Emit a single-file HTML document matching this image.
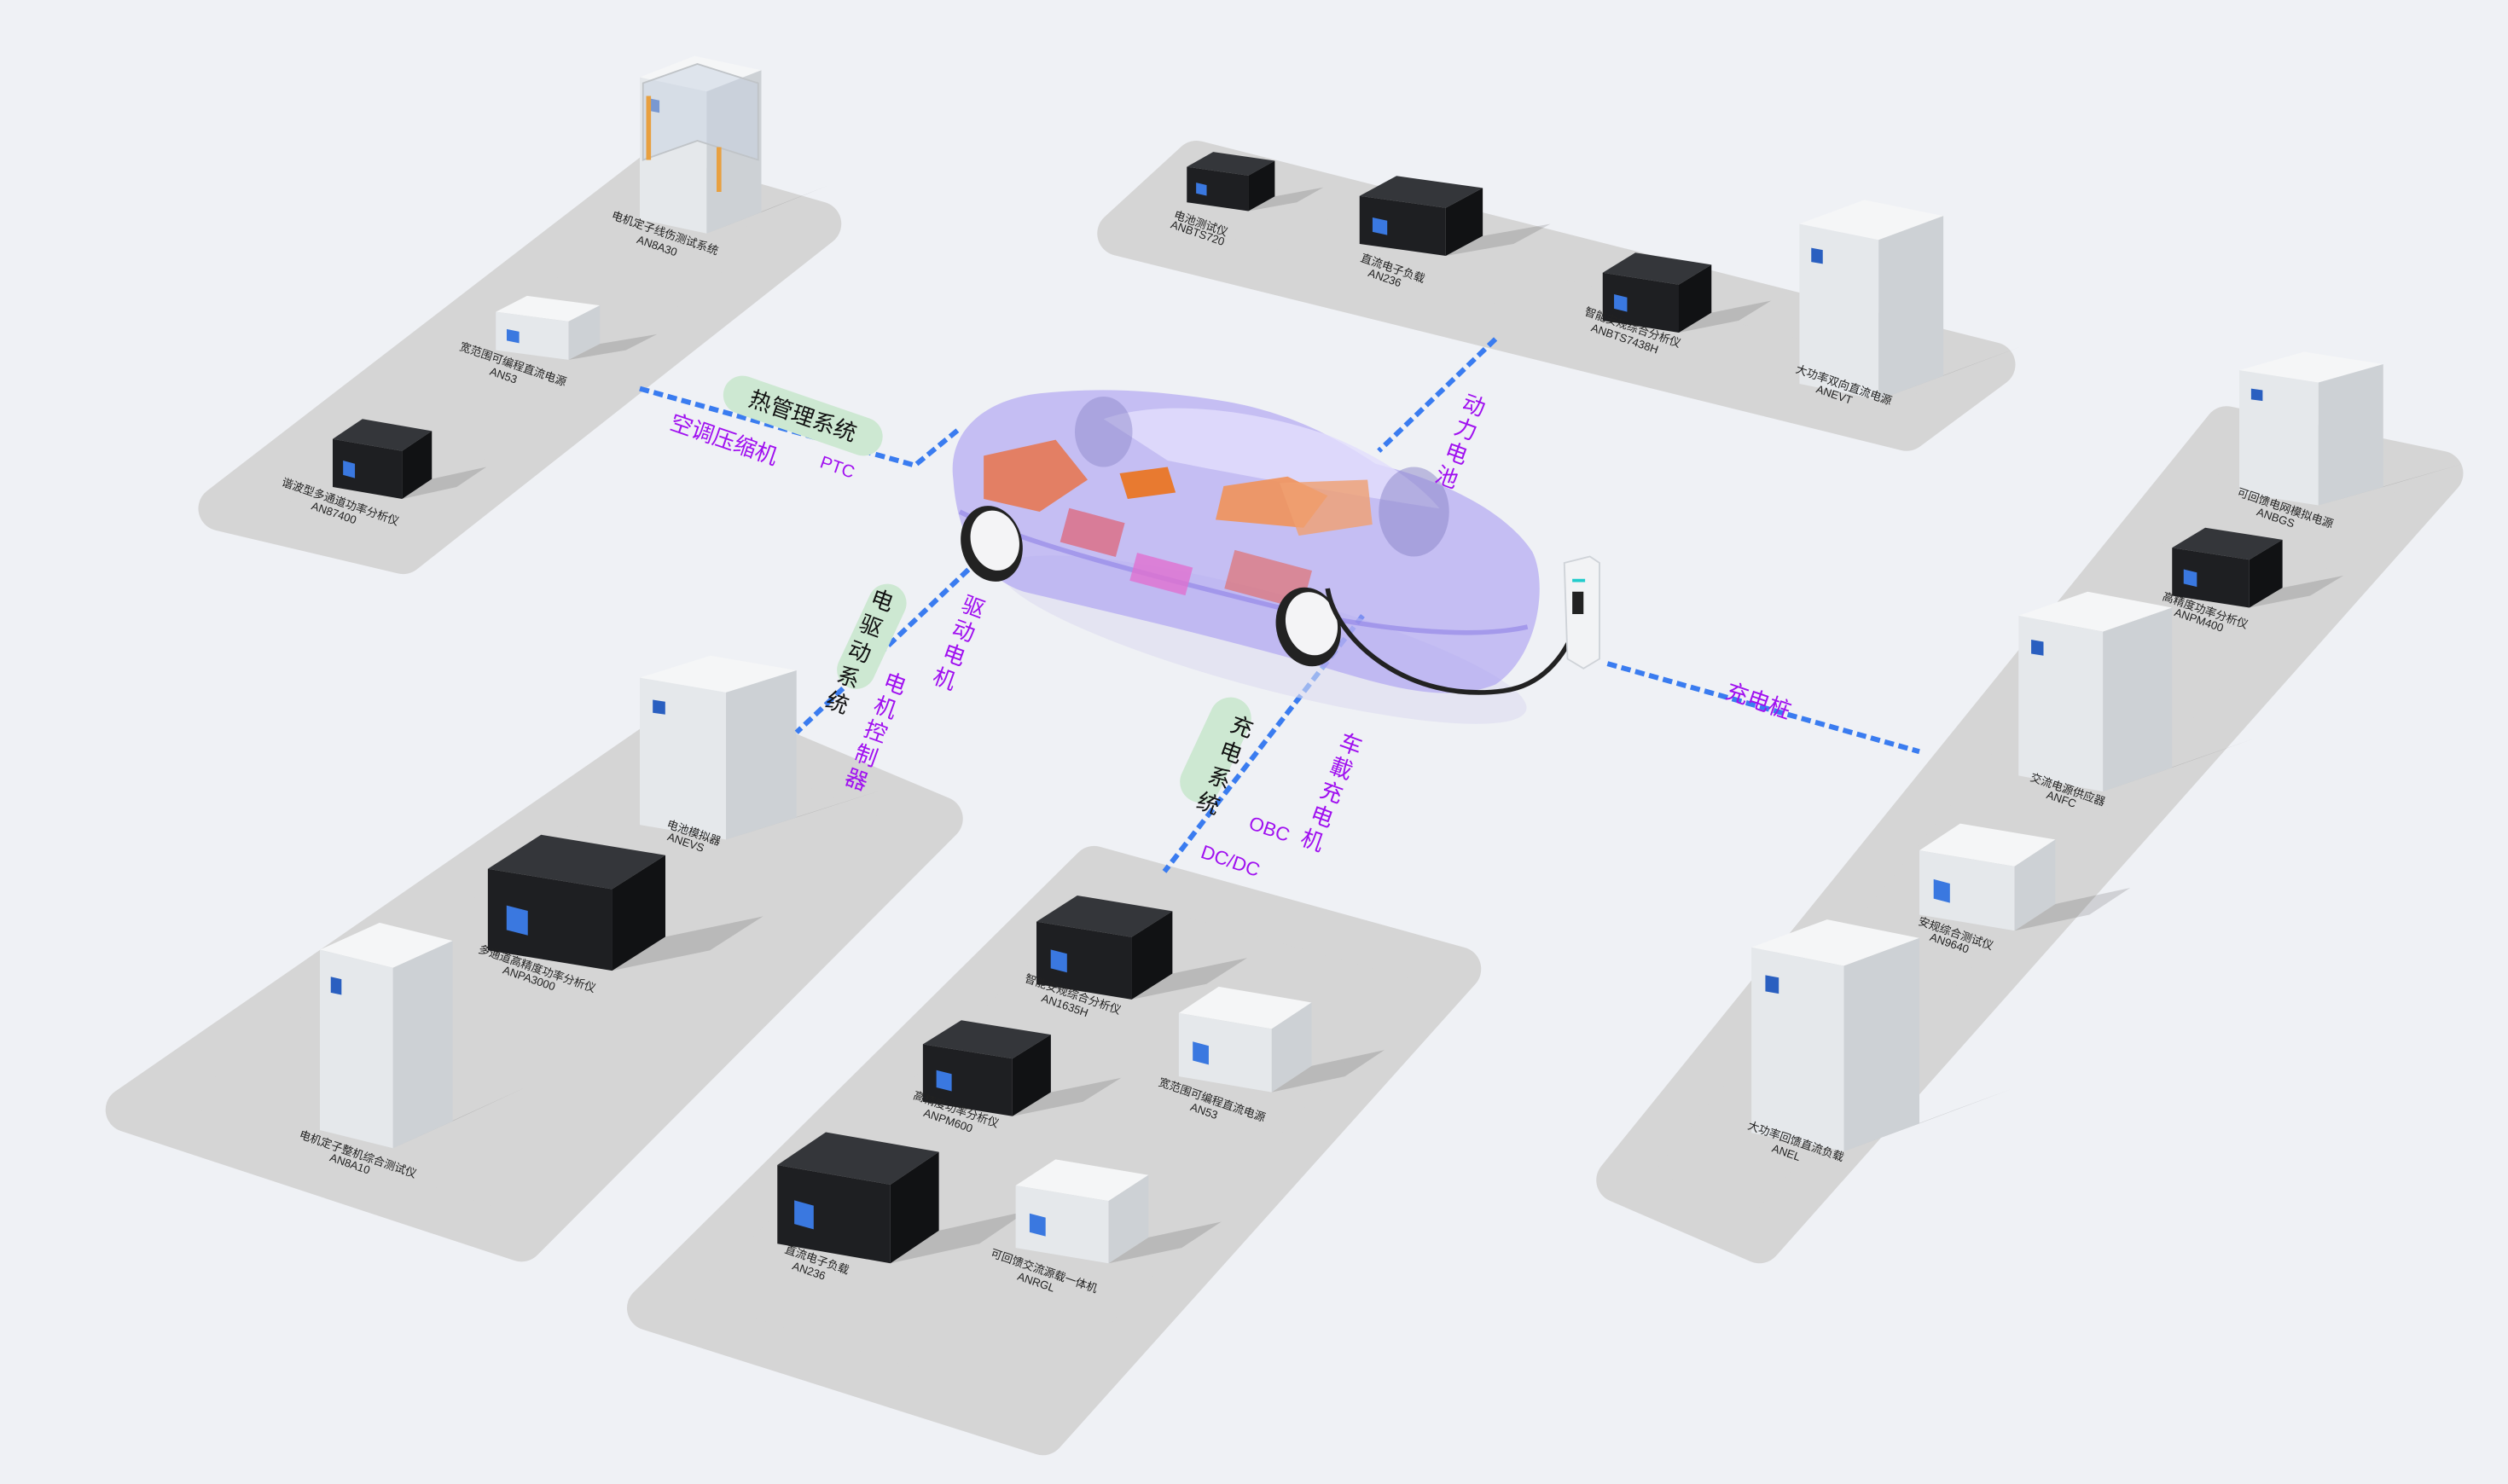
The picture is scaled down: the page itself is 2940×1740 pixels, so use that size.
<!DOCTYPE html>
<html><head><meta charset="utf-8">
<style>
html,body{margin:0;padding:0;background:#eff1f5;}
svg{display:block;}
text{font-family:"Liberation Sans","Noto Sans CJK SC",sans-serif;}
.lb{font-size:7px;fill:#222;}
.pu{fill:#a010f0;font-size:14px;}
.gr{fill:#111;font-size:14px;}
</style></head>
<body>
<svg id="s" width="2940" height="1740" viewBox="0 0 1568 928" xmlns="http://www.w3.org/2000/svg">
<rect width="1568" height="928" fill="#eff1f5"/>
<g fill="#d5d5d5" stroke="#d5d5d5" stroke-width="28" stroke-linejoin="round">
<polygon points="408,110 512,140 252,345 138,318"/>
<polygon points="748,102 1246,228 1192,268 700,146"/>
<polygon points="1392,268 1526,296 1100,776 1012,738"/>
<polygon points="436,448 588,512 326,775 80,694"/>
<polygon points="684,543 912,606 652,896 406,818"/>
</g>
<g id="dev"></g>
<g fill="none" stroke="#3a7cf0" stroke-width="3.2" stroke-dasharray="6,3">
<polyline points="400,243 572,291 600,268"/>
<polyline points="935,212 862,282"/>
<polyline points="612,350 498,458"/>
<polyline points="852,385 728,545"/>
<polyline points="1005,415 1200,470"/>
</g>
<!-- car -->
<g>
<ellipse cx="790" cy="400" rx="170" ry="30" fill="#dcdcf0" opacity="0.6" transform="rotate(15 790 400)"/>
<path d="M596,300 C592,270 615,250 650,246 C690,242 720,244 760,250 C800,256 830,270 860,290 C900,300 940,318 958,345 C968,365 962,410 935,428 C905,440 870,430 830,418 C760,398 690,382 640,370 C610,360 598,330 596,300 Z" fill="#a99cf2" opacity="0.6"/>
<path d="M690,262 C730,248 790,258 830,272 C860,284 885,300 900,318 C860,312 790,300 730,288 Z" fill="#e2defc" opacity="0.8"/>
<path d="M600,320 C640,340 720,360 800,380 C860,394 920,400 955,392" fill="none" stroke="#8d80e6" stroke-width="3" opacity="0.6"/>
<path d="M615,285 L660,275 L680,300 L650,320 L615,312 Z" fill="#e8744a" opacity="0.85"/>
<path d="M700,296 L730,292 L735,308 L705,312 Z" fill="#e87a30"/>
<path d="M765,304 L805,298 L830,310 L815,330 L760,325 Z" fill="#f0925a" opacity="0.9"/>
<path d="M800,302 L855,300 L858,328 L812,335 Z" fill="#f0a070" opacity="0.8"/>
<rect x="665" y="322" width="36" height="22" fill="#e06070" opacity="0.7" transform="rotate(15 683 333)"/>
<rect x="708" y="350" width="36" height="18" fill="#e070d0" opacity="0.8" transform="rotate(15 726 359)"/>
<rect x="768" y="350" width="50" height="25" fill="#e07070" opacity="0.7" transform="rotate(15 793 362)"/>
<ellipse cx="620" cy="340" rx="19" ry="24" fill="#222" transform="rotate(-15 620 340)"/>
<ellipse cx="622" cy="338" rx="15" ry="19" fill="#f4f4f6" transform="rotate(-15 622 338)"/>
<ellipse cx="818" cy="392" rx="20" ry="25" fill="#222" transform="rotate(-15 818 392)"/>
<ellipse cx="820" cy="390" rx="16" ry="20" fill="#f4f4f6" transform="rotate(-15 820 390)"/>
<ellipse cx="884" cy="320" rx="22" ry="28" fill="#8a84c8" opacity="0.5"/>
<ellipse cx="690" cy="270" rx="18" ry="22" fill="#8a84c8" opacity="0.45"/>
<path d="M830,368 C835,400 880,440 940,432 C970,428 985,400 988,380" fill="none" stroke="#222" stroke-width="3"/>
<polygon points="978,352 994,348 1000,352 1000,412 990,418 980,412" fill="#f2f3f5" stroke="#cfd3d8" stroke-width="1"/>
<rect x="983" y="370" width="7" height="14" fill="#222"/>
<rect x="983" y="362" width="8" height="2" fill="#2cc"/>
</g>
<g fill="#cde8d2">
<rect x="450" y="248" width="104" height="24" rx="12" transform="rotate(19 502 260)"/>
<rect x="510" y="386" width="70" height="24" rx="12" transform="rotate(-65 545 398)"/>
<rect x="725" y="456" width="70" height="26" rx="13" transform="rotate(-65 760 469)"/>
</g>
<text class="gr" x="502" y="265" text-anchor="middle" transform="rotate(19 502 260)">热管理系统</text>
<g class="gr" font-size="14">
<text x="545" y="378" transform="rotate(20 545 373)">电</text>
<text x="538" y="394" transform="rotate(20 538 389)">驱</text>
<text x="531" y="410" transform="rotate(20 531 405)">动</text>
<text x="524" y="426" transform="rotate(20 524 421)">系</text>
<text x="517" y="442" transform="rotate(20 517 437)">统</text>
<text x="770" y="457" transform="rotate(20 770 452)">充</text>
<text x="763" y="473" transform="rotate(20 763 468)">电</text>
<text x="756" y="489" transform="rotate(20 756 484)">系</text>
<text x="749" y="505" transform="rotate(20 749 500)">统</text>
</g>
<g class="pu">
<text x="418" y="268" transform="rotate(19 418 268)">空调压缩机</text>
<text x="512" y="292" font-size="11" transform="rotate(19 512 292)">PTC</text>
<text x="915" y="256" transform="rotate(20 915 251)">动</text>
<text x="910" y="271" transform="rotate(20 910 266)">力</text>
<text x="904" y="286" transform="rotate(20 904 281)">电</text>
<text x="898" y="301" transform="rotate(20 898 296)">池</text>
<text x="602" y="382" transform="rotate(20 602 377)">驱</text>
<text x="596" y="397" transform="rotate(20 596 392)">动</text>
<text x="590" y="412" transform="rotate(20 590 407)">电</text>
<text x="584" y="427" transform="rotate(20 584 422)">机</text>
<text x="553" y="430" transform="rotate(20 553 425)">电</text>
<text x="547" y="445" transform="rotate(20 547 440)">机</text>
<text x="541" y="460" transform="rotate(20 541 455)">控</text>
<text x="535" y="475" transform="rotate(20 535 470)">制</text>
<text x="529" y="490" transform="rotate(20 529 485)">器</text>
<text x="838" y="468" transform="rotate(20 838 463)">车</text>
<text x="832" y="483" transform="rotate(20 832 478)">載</text>
<text x="826" y="498" transform="rotate(20 826 493)">充</text>
<text x="820" y="513" transform="rotate(20 820 508)">电</text>
<text x="814" y="528" transform="rotate(20 814 523)">机</text>
<text x="780" y="518" font-size="12" transform="rotate(19 780 518)">OBC</text>
<text x="750" y="536" font-size="12" transform="rotate(19 750 536)">DC/DC</text>
<text x="1078" y="436" transform="rotate(19 1078 436)">充电桩</text>
</g>
<g class="lb" text-anchor="middle">
<text transform="translate(415,148) rotate(19)">电机定子线伤测试系统</text><text transform="translate(410,156) rotate(19)">AN8A30</text>
<text transform="translate(320,230) rotate(19)">宽范围可编程直流电源</text><text transform="translate(314,237) rotate(19)">AN53</text>
<text transform="translate(212,316) rotate(19)">谐波型多通道功率分析仪</text><text transform="translate(208,323) rotate(19)">AN87400</text>
<text transform="translate(750,142) rotate(19)">电池测试仪</text><text transform="translate(748,148) rotate(19)">ANBTS720</text>
<text transform="translate(870,170) rotate(19)">直流电子负载</text><text transform="translate(865,176) rotate(19)">AN236</text>
<text transform="translate(1020,207) rotate(19)">智能安规综合分析仪</text><text transform="translate(1015,214) rotate(19)">ANBTS7438H</text>
<text transform="translate(1152,243) rotate(19)">大功率双向直流电源</text><text transform="translate(1146,249) rotate(19)">ANEVT</text>
<text transform="translate(1428,320) rotate(19)">可回馈电网模拟电源</text><text transform="translate(1422,326) rotate(19)">ANBGS</text>
<text transform="translate(1378,384) rotate(19)">高精度功率分析仪</text><text transform="translate(1374,390) rotate(19)">ANPM400</text>
<text transform="translate(1292,496) rotate(19)">交流电源供应器</text><text transform="translate(1288,502) rotate(19)">ANFC</text>
<text transform="translate(1222,586) rotate(19)">安规综合测试仪</text><text transform="translate(1218,592) rotate(19)">AN9640</text>
<text transform="translate(1122,716) rotate(19)">大功率回馈直流负载</text><text transform="translate(1116,723) rotate(19)">ANEL</text>
<text transform="translate(433,523) rotate(19)">电池模拟器</text><text transform="translate(428,529) rotate(19)">ANEVS</text>
<text transform="translate(335,608) rotate(19)">多通道高精度功率分析仪</text><text transform="translate(330,614) rotate(19)">ANPA3000</text>
<text transform="translate(223,724) rotate(19)">电机定子整机综合测试仪</text><text transform="translate(218,730) rotate(19)">AN8A10</text>
<text transform="translate(670,624) rotate(19)">智能安规综合分析仪</text><text transform="translate(665,631) rotate(19)">AN1635H</text>
<text transform="translate(757,690) rotate(19)">宽范围可编程直流电源</text><text transform="translate(752,697) rotate(19)">AN53</text>
<text transform="translate(597,696) rotate(19)">高精度功率分析仪</text><text transform="translate(592,703) rotate(19)">ANPM600</text>
<text transform="translate(510,790) rotate(19)">直流电子负载</text><text transform="translate(505,797) rotate(19)">AN236</text>
<text transform="translate(652,797) rotate(19)">可回馈交流源载一体机</text><text transform="translate(647,804) rotate(19)">ANRGL</text>
</g>
</svg>
<script>
(function(){
var g=document.getElementById('dev'),NS='http://www.w3.org/2000/svg';
function poly(pts,fill){var p=document.createElementNS(NS,'polygon');p.setAttribute('points',pts.map(function(q){return q[0].toFixed(1)+','+q[1].toFixed(1)}).join(' '));p.setAttribute('fill',fill);g.appendChild(p);}
function box(x1,y1,x2,y2,dark,tall){
 var w=x2-x1,h=y2-y1,xb=x1+(tall?0.45:0.3)*w,dL=(tall?0.12:0.25)*h,dR=(tall?0.08:0.15)*h;
 var L=[x1,y1+dL],B=[xb,y1],R=[x2,y1+dR],Ft=[x1+x2-xb,y1+dL+dR],Fb=[x1+x2-xb,y2],Lb=[x1,y2-dR],Rb=[x2,y2-dL];
 poly([Fb,Rb,[x2+0.55*w,Rb[1]-0.15*h],[Fb[0]+0.55*w,Fb[1]-0.15*h]],'rgba(0,0,0,0.13)');
 poly([L,B,R,Ft],dark?'#34363a':'#f5f6f7');
 poly([L,Ft,Fb,Lb],dark?'#1e1f22':'#e5e8eb');
 poly([Ft,R,Rb,Fb],dark?'#111214':'#cdd1d5');
 var sx=L[0]+(Ft[0]-L[0])*0.15, sy=Lb[1]-(Lb[1]-L[1])*0.55;
 if(!tall)poly([[sx,sy],[sx+0.12*w,sy+0.04*h],[sx+0.12*w,sy+0.22*h],[sx,sy+0.18*h]],'#3a78e0');
 else poly([[sx,L[1]+0.12*h],[sx+0.08*w,L[1]+0.13*h],[sx+0.08*w,L[1]+0.2*h],[sx,L[1]+0.19*h]],'#2a5fc0');
}
var D=[
[400,35,476,146,0,1],[310,185,375,225,0,0],[208,262,270,312,1,0],
[742,95,797,132,1,0],[850,110,927,160,1,0],[1002,158,1070,208,1,0],[1125,125,1215,250,0,1],
[1400,220,1490,316,0,1],[1358,330,1427,380,1,0],[1262,370,1358,495,0,1],[1200,515,1285,582,0,0],[1095,575,1200,720,0,1],
[400,410,498,525,0,1],[305,522,416,607,1,0],[200,577,283,718,0,1],
[648,560,733,625,1,0],[737,617,820,683,0,0],[577,638,657,698,1,0],[486,708,587,790,1,0],[635,725,718,790,0,0]
];
D.forEach(function(d){box(d[0],d[1],d[2],d[3],d[4],d[5]);});
// glass frame on top-left machine
var f=document.createElementNS(NS,'polygon');f.setAttribute('points','402,52 436,40 474,52 474,100 436,88 402,100');f.setAttribute('fill','rgba(200,210,225,0.5)');f.setAttribute('stroke','#c0c4c8');g.appendChild(f);
poly([[404,60],[407,60],[407,100],[404,100]],'#e8a040');
poly([[448,92],[451,92],[451,120],[448,120]],'#e8a040');
})();
</script>
</body></html>
